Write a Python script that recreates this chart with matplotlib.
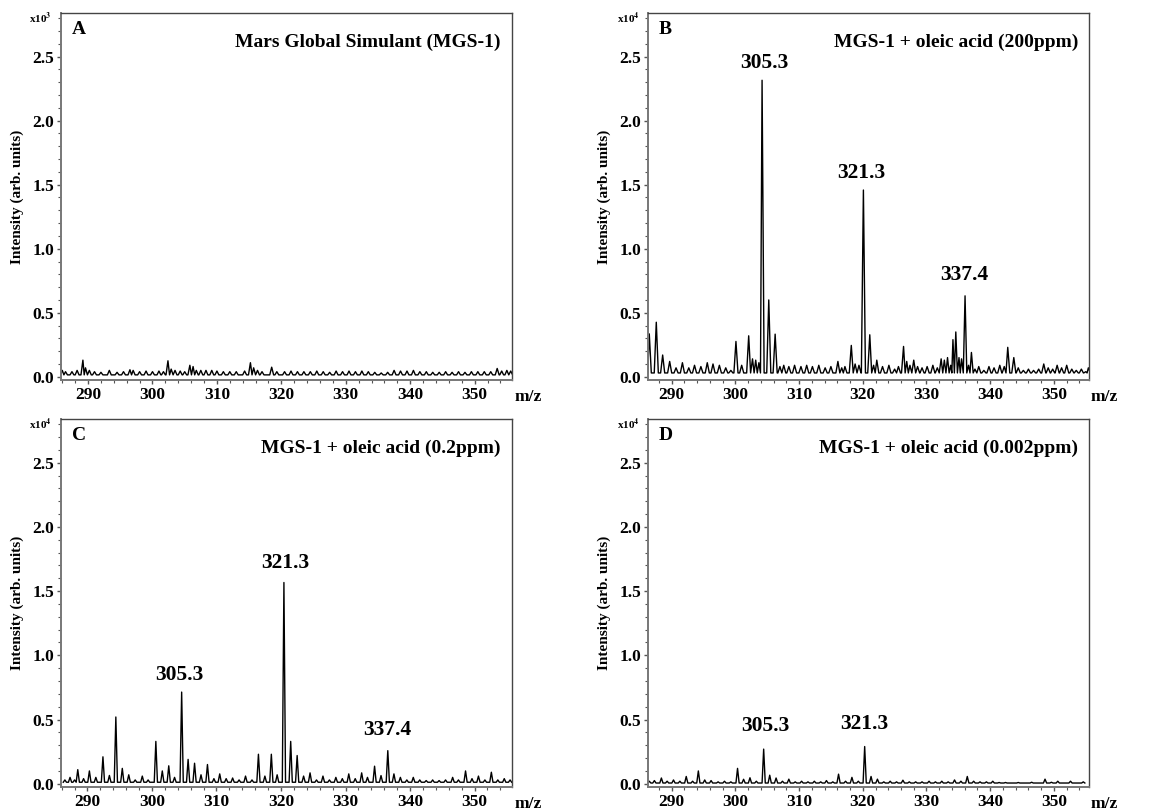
import matplotlib
matplotlib.use("Agg")
import matplotlib.pyplot as plt
from matplotlib.ticker import MultipleLocator, FormatStrFormatter

plt.rcParams['font.family'] = ['Liberation Serif', 'DejaVu Serif']
plt.rcParams['font.weight'] = 'bold'
plt.rcParams['mathtext.fontset'] = 'stix'

# ---------------- data (peak apex m/z, intensity in displayed units) ----------
mz_A = [286.0, 286.5, 287.5, 288.3, 289.2, 289.6, 290.2, 291.0, 292.0, 293.3, 294.5, 295.5,
        296.5, 297.0, 298.0, 299.0, 300.0, 301.0, 301.7, 302.4, 302.9, 303.5, 304.3, 305.0,
        305.8, 306.3, 306.8, 307.5, 308.3, 309.2, 310.0, 311.0, 312.0, 313.0, 314.3, 315.2,
        315.7, 316.3, 317.0, 318.5, 319.3, 320.5, 321.5, 322.5, 323.5, 324.5, 325.5, 326.5,
        327.5, 328.5, 329.5, 330.5, 331.5, 332.5, 333.5, 334.5, 335.5, 336.5, 337.5, 338.5,
        339.5, 340.5, 341.5, 342.5, 343.5, 344.5, 345.5, 346.5, 347.5, 348.5, 349.5, 350.5,
        351.5, 352.5, 353.5, 354.2, 355.0, 355.6]
int_A = [0.05, 0.04, 0.04, 0.05, 0.13, 0.07, 0.05, 0.04, 0.035, 0.05, 0.035, 0.04,
         0.055, 0.05, 0.04, 0.045, 0.04, 0.045, 0.04, 0.125, 0.06, 0.05, 0.045, 0.04,
         0.09, 0.08, 0.05, 0.05, 0.05, 0.05, 0.045, 0.04, 0.04, 0.04, 0.045, 0.11,
         0.07, 0.05, 0.04, 0.075, 0.04, 0.04, 0.045, 0.04, 0.04, 0.04, 0.045, 0.04,
         0.035, 0.045, 0.04, 0.045, 0.04, 0.045, 0.04, 0.035, 0.03, 0.035, 0.05, 0.045,
         0.045, 0.05, 0.04, 0.04, 0.035, 0.035, 0.04, 0.035, 0.04, 0.035, 0.04, 0.04,
         0.04, 0.04, 0.065, 0.045, 0.05, 0.045]

mz_B = [286.0, 286.5, 287.6, 288.6, 289.7, 290.7, 291.7, 292.7, 293.6, 294.6, 295.6, 296.5,
        297.5, 298.5, 299.3, 300.1, 301.0, 302.1, 302.7, 303.2, 303.7, 304.2, 305.25, 306.25,
        307.0, 307.6, 308.4, 309.3, 310.3, 311.2, 312.1, 313.1, 314.1, 315.0, 316.1, 316.7,
        317.2, 318.2, 318.8, 319.4, 320.1, 321.1, 321.7, 322.2, 323.1, 324.1, 325.0, 325.6,
        326.4, 326.9, 327.4, 328.0, 328.6, 329.3, 330.1, 331.0, 331.7, 332.3, 332.8, 333.3,
        333.8, 334.15, 334.6, 335.1, 335.5, 336.05, 336.6, 337.05, 337.6, 338.2, 339.0, 339.8,
        340.6, 341.5, 342.2, 342.75, 343.7, 344.4, 345.2, 346.0, 346.8, 347.6, 348.4, 349.1,
        349.8, 350.5, 351.2, 352.0, 352.8, 353.5, 354.3, 355.0, 355.4]
int_B = [0.12, 0.335, 0.426, 0.17, 0.12, 0.07, 0.11, 0.07, 0.09, 0.08, 0.11, 0.10,
         0.09, 0.07, 0.05, 0.276, 0.09, 0.32, 0.14, 0.13, 0.11, 2.315, 0.60, 0.333,
         0.08, 0.09, 0.08, 0.09, 0.08, 0.09, 0.08, 0.09, 0.07, 0.08, 0.12, 0.07,
         0.08, 0.245, 0.10, 0.09, 1.458, 0.328, 0.09, 0.13, 0.08, 0.09, 0.06, 0.08,
         0.237, 0.12, 0.09, 0.13, 0.08, 0.07, 0.08, 0.09, 0.07, 0.14, 0.13, 0.15,
         0.09, 0.29, 0.35, 0.15, 0.14, 0.632, 0.09, 0.19, 0.06, 0.08, 0.05, 0.08,
         0.07, 0.09, 0.08, 0.23, 0.15, 0.07, 0.05, 0.06, 0.05, 0.06, 0.10, 0.07,
         0.06, 0.09, 0.07, 0.09, 0.06, 0.05, 0.06, 0.04, 0.07]

mz_C = [286.5, 287.3, 288.0, 288.5, 289.4, 290.3, 291.3, 292.4, 293.4, 294.4, 295.4, 296.4,
        297.4, 298.5, 299.4, 300.6, 301.6, 302.6, 303.5, 304.6, 305.6, 306.6, 307.6, 308.6,
        309.6, 310.5, 311.5, 312.5, 313.5, 314.5, 315.5, 316.5, 317.5, 318.5, 319.4, 320.45,
        321.5, 322.5, 323.5, 324.5, 325.5, 326.5, 327.5, 328.5, 329.5, 330.5, 331.5, 332.5,
        333.4, 334.5, 335.5, 336.55, 337.5, 338.5, 339.5, 340.5, 341.5, 342.5, 343.5, 344.5,
        345.5, 346.6, 347.5, 348.6, 349.6, 350.6, 351.6, 352.6, 353.6, 354.6, 355.5]
int_C = [0.03, 0.05, 0.03, 0.11, 0.04, 0.10, 0.05, 0.21, 0.065, 0.52, 0.12, 0.07,
         0.03, 0.06, 0.03, 0.33, 0.10, 0.14, 0.05, 0.714, 0.19, 0.16, 0.07, 0.15,
         0.04, 0.077, 0.04, 0.045, 0.03, 0.06, 0.03, 0.23, 0.06, 0.23, 0.07, 1.567,
         0.33, 0.22, 0.06, 0.085, 0.03, 0.06, 0.03, 0.05, 0.04, 0.077, 0.04, 0.085,
         0.05, 0.137, 0.064, 0.258, 0.077, 0.05, 0.03, 0.05, 0.03, 0.025, 0.03, 0.025,
         0.03, 0.05, 0.03, 0.10, 0.04, 0.06, 0.03, 0.09, 0.03, 0.04, 0.03]

mz_D = [286.5, 287.3, 288.4, 289.3, 290.3, 291.3, 292.3, 293.3, 294.2, 295.2, 296.2, 297.3,
        298.3, 299.3, 300.35, 301.3, 302.3, 303.3, 304.45, 305.4, 306.4, 307.4, 308.4, 309.4,
        310.4, 311.4, 312.4, 313.4, 314.3, 315.3, 316.2, 317.3, 318.3, 319.3, 320.3, 321.3,
        322.3, 323.3, 324.3, 325.3, 326.3, 327.3, 328.3, 329.3, 330.4, 331.4, 332.4, 333.4,
        334.4, 335.4, 336.4, 337.4, 338.4, 339.4, 340.4, 341.4, 342.4, 344.4, 346.5, 348.6,
        349.6, 350.6, 352.6, 354.6]
int_D = [0.02, 0.025, 0.045, 0.02, 0.03, 0.02, 0.057, 0.02, 0.10, 0.03, 0.025, 0.015,
         0.02, 0.015, 0.12, 0.035, 0.047, 0.02, 0.27, 0.067, 0.045, 0.02, 0.036, 0.015,
         0.02, 0.015, 0.02, 0.015, 0.025, 0.015, 0.075, 0.02, 0.05, 0.02, 0.29, 0.057,
         0.036, 0.015, 0.02, 0.015, 0.028, 0.015, 0.015, 0.015, 0.02, 0.015, 0.02, 0.015,
         0.03, 0.02, 0.057, 0.02, 0.015, 0.015, 0.02, 0.01, 0.01, 0.01, 0.012, 0.036,
         0.012, 0.02, 0.02, 0.015]

base_A, base_B, base_C, base_D = 0.015, 0.03, 0.012, 0.006

# peak annotations: text, x, y (bottom of text)
labels_B = [("305.3", 304.5, 2.37), ("321.3", 319.8, 1.51), ("337.4", 335.9, 0.72)]
labels_C = [("305.3", 304.3, 0.77), ("321.3", 320.7, 1.64), ("337.4", 336.5, 0.34)]
labels_D = [("305.3", 304.7, 0.37), ("321.3", 320.2, 0.39)]

titles = ["Mars Global Simulant (MGS-1)", "MGS-1 + oleic acid (200ppm)",
          "MGS-1 + oleic acid (0.2ppm)", "MGS-1 + oleic acid (0.002ppm)"]
letters = ["A", "B", "C", "D"]
scales = ["x10$^{3}$", "x10$^{4}$", "x10$^{4}$", "x10$^{4}$"]
yticks = [0.0, 0.5, 1.0, 1.5, 2.0, 2.5]
xticks = [290, 300, 310, 320, 330, 340, 350]


def spectrum(mz, inten, base, hw):
    """Peak apexes joined through baseline valleys (shared valley if peaks are close)."""
    xs, ys = [mz[0] - hw], [base]
    for k, (m, h) in enumerate(zip(mz, inten)):
        xs.append(m)
        ys.append(h)
        if k + 1 < len(mz):
            nxt = mz[k + 1]
            if nxt - m > 2 * hw:
                xs += [m + hw, nxt - hw]
                ys += [base, base]
            else:
                xs.append((m + nxt) / 2)
                ys.append(base)
        else:
            xs.append(m + hw)
            ys.append(base)
    return xs, ys


W, H = 1149, 810
fig = plt.figure(figsize=(W / 100, H / 100), dpi=100)
boxes = [(61, 13, 512, 380), (648, 13, 1089, 380), (61, 419, 512, 787), (648, 419, 1089, 787)]
xlims = [(285.8, 355.8), (286.3, 355.5), (285.9, 355.8), (286.3, 355.5)]
widths = [0.3, 0.32, 0.25, 0.25]
data = [(mz_A, int_A, base_A, []), (mz_B, int_B, base_B, labels_B),
        (mz_C, int_C, base_C, labels_C), (mz_D, int_D, base_D, labels_D)]

for i, (l, t, r, b) in enumerate(boxes):
    ax = fig.add_axes([l / W, (H - b) / H, (r - l) / W, (b - t) / H])
    mz, inten, base, labs = data[i]
    xs, ys = spectrum(mz, inten, base, widths[i])
    ax.plot(xs, ys, color='black', lw=1.0, clip_on=True)
    ax.set_xlim(*xlims[i])
    ax.set_ylim(-0.025, 2.84)
    ax.set_xticks(xticks)
    ax.set_yticks(yticks)
    ax.xaxis.set_minor_locator(MultipleLocator(2))
    ax.yaxis.set_minor_locator(MultipleLocator(0.1))
    ax.yaxis.set_major_formatter(FormatStrFormatter('%.1f'))
    ax.tick_params(which='both', direction='out', color='#555555', labelsize=12.5, pad=2)
    ax.tick_params(which='major', length=3, width=1)
    ax.tick_params(which='minor', length=2, width=0.8)
    for lab in ax.get_xticklabels() + ax.get_yticklabels():
        lab.set_fontweight('bold')
    for s in ax.spines.values():
        s.set_color('#444444')
        s.set_linewidth(1.0)
    ax.spines['left'].set_color('#777777')
    ax.spines['bottom'].set_color('#777777')
    ax.spines['left'].set_linewidth(1.4)
    ax.spines['bottom'].set_linewidth(1.4)
    ax.set_ylabel("Intensity (arb. units)", fontsize=11, fontweight='bold', labelpad=6)
    ax.text(1.035, -0.045, "m/z", transform=ax.transAxes, ha='center', va='center',
            fontsize=12.5, fontweight='bold')
    ax.text(-0.045, 0.985, scales[i], transform=ax.transAxes, ha='center', va='center',
            fontsize=8, fontweight='bold')
    ax.text(0.025, 0.955, letters[i], transform=ax.transAxes, ha='left', va='center',
            fontsize=14, fontweight='bold')
    ax.text(0.975, 0.92, titles[i], transform=ax.transAxes, ha='right', va='center',
            fontsize=14, fontweight='bold')
    for txt, x, y in labs:
        ax.text(x, y, txt, ha='center', va='bottom', fontsize=15.5, fontweight='bold')

fig.savefig("out.png", dpi=100)
